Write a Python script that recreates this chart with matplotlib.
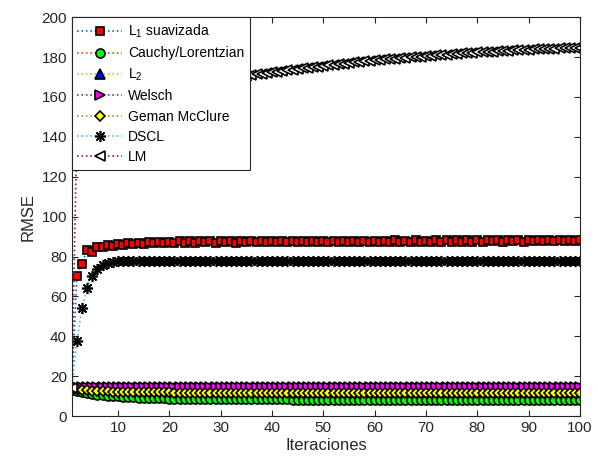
import numpy as np
import matplotlib
matplotlib.use('Agg')
import matplotlib.pyplot as plt

plt.rcParams['font.family'] = ['Liberation Sans', 'DejaVu Sans']

# iteraciones 1..100
iteraciones = np.arange(1, 101)

l1_suav = [14.0, 70.5, 76.5, 83.5, 82.5, 85.0, 85.0, 86.0, 85.5, 86.5,
           85.8, 87.0, 86.2, 87.0, 86.5, 87.3, 86.6, 87.4, 86.8, 87.5,
           86.9, 87.6, 87.0, 87.7, 86.9, 87.6, 87.1, 87.7, 87.0, 87.6,
           87.1, 87.8, 87.0, 87.7, 87.2, 87.8, 87.1, 87.7, 87.2, 87.9,
           87.1, 87.8, 87.2, 87.9, 87.2, 87.8, 87.3, 87.9, 87.2, 87.8,
           87.3, 88.0, 87.2, 87.9, 87.3, 88.0, 87.3, 87.9, 87.4, 88.0,
           87.3, 88.0, 87.4, 88.1, 87.3, 88.0, 87.4, 88.1, 87.4, 88.0,
           87.5, 88.1, 87.4, 88.1, 87.5, 88.2, 87.4, 88.1, 87.5, 88.2,
           87.5, 88.1, 87.6, 88.2, 87.5, 88.2, 87.6, 88.3, 87.5, 88.2,
           87.6, 88.3, 87.6, 88.2, 87.7, 88.3, 87.6, 88.3, 87.7, 88.4]

cauchy = [13.0, 12.5, 12.0, 11.5, 11.1, 10.8, 10.5, 10.3, 10.1, 9.9,
          9.7, 9.6, 9.4, 9.3, 9.2, 9.1, 9.0, 8.95, 8.9, 8.85,
          8.8, 8.75, 8.7, 8.7, 8.65, 8.6, 8.6, 8.55, 8.55, 8.5,
          8.5, 8.5, 8.45, 8.45, 8.45, 8.4, 8.4, 8.4, 8.4, 8.4,
          8.4, 8.4, 8.4, 8.35, 8.35, 8.35, 8.35, 8.35, 8.35, 8.35,
          8.35, 8.3, 8.3, 8.3, 8.3, 8.3, 8.3, 8.3, 8.3, 8.3,
          8.3, 8.3, 8.3, 8.25, 8.25, 8.25, 8.25, 8.25, 8.25, 8.25,
          8.25, 8.25, 8.25, 8.25, 8.25, 8.2, 8.2, 8.2, 8.2, 8.2,
          8.2, 8.2, 8.2, 8.2, 8.2, 8.2, 8.2, 8.2, 8.2, 8.2,
          8.2, 8.2, 8.2, 8.2, 8.2, 8.2, 8.2, 8.2, 8.2, 8.2]

l2 = [14.0, 14.2, 14.3, 14.3, 14.3, 14.3, 14.3, 14.3, 14.3, 14.3,
      14.3, 14.3, 14.3, 14.3, 14.3, 14.3, 14.3, 14.3, 14.3, 14.3,
      14.3, 14.3, 14.3, 14.3, 14.3, 14.3, 14.3, 14.3, 14.3, 14.3,
      14.3, 14.3, 14.3, 14.3, 14.3, 14.3, 14.3, 14.3, 14.3, 14.3,
      14.3, 14.3, 14.3, 14.3, 14.3, 14.3, 14.3, 14.3, 14.3, 14.3,
      14.3, 14.3, 14.3, 14.3, 14.3, 14.3, 14.3, 14.3, 14.3, 14.3,
      14.3, 14.3, 14.3, 14.3, 14.3, 14.3, 14.3, 14.3, 14.3, 14.3,
      14.3, 14.3, 14.3, 14.3, 14.3, 14.3, 14.3, 14.3, 14.3, 14.3,
      14.3, 14.3, 14.3, 14.3, 14.3, 14.3, 14.3, 14.3, 14.3, 14.3,
      14.3, 14.3, 14.3, 14.3, 14.3, 14.3, 14.3, 14.3, 14.3, 14.3]

welsch = [14.0, 14.5, 14.6, 14.6, 14.6, 14.6, 14.6, 14.6, 14.6, 14.6,
          14.6, 14.6, 14.6, 14.6, 14.6, 14.6, 14.6, 14.6, 14.6, 14.6,
          14.6, 14.6, 14.6, 14.6, 14.6, 14.6, 14.6, 14.6, 14.6, 14.6,
          14.6, 14.6, 14.6, 14.6, 14.6, 14.6, 14.6, 14.6, 14.6, 14.6,
          14.6, 14.6, 14.6, 14.6, 14.6, 14.6, 14.6, 14.6, 14.6, 14.6,
          14.6, 14.6, 14.6, 14.6, 14.6, 14.6, 14.6, 14.6, 14.6, 14.6,
          14.6, 14.6, 14.6, 14.6, 14.6, 14.6, 14.6, 14.6, 14.6, 14.6,
          14.6, 14.6, 14.6, 14.6, 14.6, 14.6, 14.6, 14.6, 14.6, 14.6,
          14.6, 14.6, 14.6, 14.6, 14.6, 14.6, 14.6, 14.6, 14.6, 14.6,
          14.6, 14.6, 14.6, 14.6, 14.6, 14.6, 14.6, 14.6, 14.6, 14.6]

geman = [14.0, 13.6, 13.3, 13.0, 12.8, 12.6, 12.5, 12.4, 12.3, 12.2,
         12.15, 12.1, 12.05, 12.0, 12.0, 11.95, 11.95, 11.9, 11.9, 11.9,
         11.85, 11.85, 11.85, 11.8, 11.8, 11.8, 11.8, 11.8, 11.75, 11.75,
         11.75, 11.75, 11.7, 11.7, 11.7, 11.7, 11.7, 11.7, 11.7, 11.7,
         11.65, 11.65, 11.65, 11.65, 11.65, 11.65, 11.65, 11.65, 11.6, 11.6,
         11.6, 11.6, 11.6, 11.6, 11.6, 11.6, 11.6, 11.6, 11.6, 11.6,
         11.55, 11.55, 11.55, 11.55, 11.55, 11.55, 11.55, 11.55, 11.55, 11.55,
         11.55, 11.55, 11.5, 11.5, 11.5, 11.5, 11.5, 11.5, 11.5, 11.5,
         11.5, 11.5, 11.5, 11.5, 11.5, 11.5, 11.5, 11.5, 11.5, 11.5,
         11.5, 11.5, 11.5, 11.5, 11.5, 11.5, 11.5, 11.5, 11.5, 11.5]

dscl = [14.0, 37.5, 54.0, 64.5, 70.5, 74.0, 76.0, 77.0, 77.4, 77.6,
        77.7, 77.7, 77.8, 77.7, 77.8, 77.7, 77.8, 77.8, 77.7, 77.8,
        77.8, 77.7, 77.8, 77.8, 77.7, 77.8, 77.8, 77.8, 77.7, 77.8,
        77.8, 77.8, 77.8, 77.7, 77.8, 77.8, 77.8, 77.8, 77.8, 77.8,
        77.8, 77.8, 77.8, 77.8, 77.8, 77.8, 77.8, 77.8, 77.8, 77.8,
        77.8, 77.8, 77.8, 77.8, 77.8, 77.8, 77.8, 77.8, 77.8, 77.8,
        77.8, 77.8, 77.8, 77.8, 77.8, 77.8, 77.8, 77.8, 77.8, 77.8,
        77.8, 77.8, 77.8, 77.8, 77.8, 77.8, 77.8, 77.8, 77.8, 77.8,
        77.8, 77.8, 77.8, 77.8, 77.8, 77.8, 77.8, 77.8, 77.8, 77.8,
        77.8, 77.8, 77.8, 77.8, 77.8, 77.8, 77.8, 77.8, 77.8, 77.8]

lm = [14.0, 145.0, 150.0, 153.0, 155.0, 156.5, 157.8, 159.0, 160.0, 160.8,
      161.5, 162.2, 162.8, 163.4, 163.9, 164.4, 164.8, 165.2, 165.6, 166.0,
      166.3, 166.6, 166.9, 167.2, 167.5, 167.8, 168.1, 168.4, 168.7, 169.0,
      169.3, 169.6, 169.9, 170.2, 170.6, 170.9, 171.3, 171.6, 172.0, 172.3,
      172.7, 173.0, 173.4, 173.7, 174.0, 174.3, 174.6, 174.9, 175.2, 175.5,
      175.8, 176.1, 176.4, 176.7, 177.0, 177.3, 177.5, 177.8, 178.0, 178.3,
      178.5, 178.8, 179.0, 179.2, 179.5, 179.7, 179.9, 180.1, 180.3, 180.5,
      180.7, 180.9, 181.1, 181.3, 181.5, 181.7, 181.9, 182.0, 182.2, 182.4,
      182.5, 182.7, 182.8, 183.0, 183.1, 183.3, 183.4, 183.5, 183.7, 183.8,
      183.9, 184.0, 184.1, 184.2, 184.3, 184.4, 184.5, 184.6, 184.7, 184.8]

nombres = [r'$\mathregular{L_1}$ suavizada', 'Cauchy/Lorentzian', r'$\mathregular{L_2}$',
           'Welsch', 'Geman McClure', 'DSCL', 'LM']
series = [l1_suav, cauchy, l2, welsch, geman, dscl, lm]
# colores de linea tipo MATLAB y estilo de marcador
colores = ['#0072BD', '#D95319', '#EDB120', '#7E2F8E', '#77AC30', '#4DBEEE', '#A2142F']
marcadores = ['s', 'o', '^', '>', 'D', (8, 2, 0), '<']
rellenos = ['red', '#00FF00', 'blue', 'magenta', 'yellow', 'black', 'white']
tamanos = [5.5, 6.5, 6.5, 6.5, 5.5, 8, 7]

fig = plt.figure(figsize=(5.98, 4.65), dpi=100)
ax = fig.add_axes([0.120, 0.105, 0.850, 0.858])

for y, nom, c, m, f, ms in zip(series, nombres, colores, marcadores, rellenos, tamanos):
    ax.plot(iteraciones, y, linestyle=':', color=c, lw=1.2, marker=m,
            markerfacecolor=f, markeredgecolor='black', markersize=ms,
            markeredgewidth=1.2, label=nom)

ax.set_xlim(1, 100)
ax.set_ylim(0, 200)
ax.set_xticks(range(10, 101, 10))
ax.set_yticks(range(0, 201, 20))
ax.tick_params(direction='in', top=True, right=True, labelsize=11, length=4,
               colors='#262626')
for s in ax.spines.values():
    s.set_color('#262626')
ax.set_xlabel('Iteraciones', fontsize=12, color='#262626', labelpad=2)
ax.set_ylabel('RMSE', fontsize=12, color='#262626')

leg = ax.legend(loc='upper left', fontsize=10, borderaxespad=0, handlelength=3.2,
                handletextpad=0.45, labelspacing=0.45, fancybox=False,
                framealpha=1, edgecolor='#262626')
leg.get_frame().set_linewidth(0.8)

fig.savefig('out.png', dpi=100, facecolor='white')
